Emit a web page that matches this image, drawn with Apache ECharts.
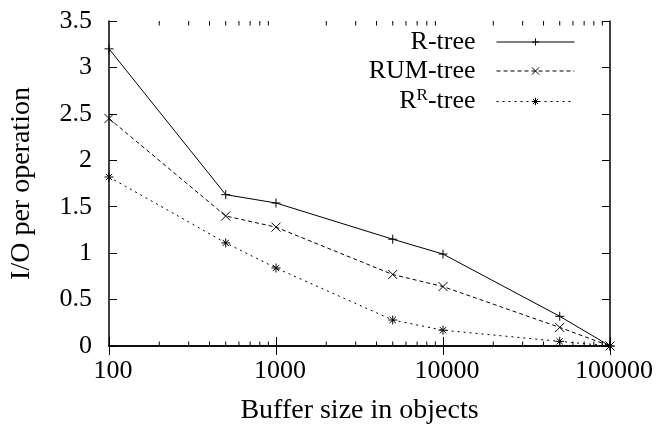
<!DOCTYPE html>
<html>
<head>
<meta charset="utf-8">
<script src="https://cdn.jsdelivr.net/npm/echarts@6/dist/echarts.min.js"></script>
<style>html,body{margin:0;padding:0;background:#fff}#c{width:656px;height:430px}</style>
</head>
<body>
<div id="c"></div>
<script>
const xValues = [100, 500, 1000, 5000, 10000, 50000, 100000];
const rTree = [3.2, 1.63, 1.54, 1.15, 0.99, 0.32, 0.0];
const rumTree = [2.45, 1.40, 1.28, 0.77, 0.64, 0.2, 0.0];
const rrTree = [1.82, 1.11, 0.84, 0.28, 0.17, 0.05, 0.0];
const xMinorTicks = [200, 300, 400, 500, 600, 700, 800, 900,
  2000, 3000, 4000, 5000, 6000, 7000, 8000, 9000,
  20000, 30000, 40000, 50000, 60000, 70000, 80000, 90000];
const seriesNames = ['R-tree', 'RUM-tree', 'RR-tree'];

const FONT = 'Liberation Serif';
const FS = 26;
const NFS = 28;

const plus = 'path://M5,0L5,10M0,5L10,5';
const cross = 'path://M0,0L10,10M0,10L10,0';
const star = 'path://M5,0L5,10M0,5L10,5M1.5,1.5L8.5,8.5M1.5,8.5L8.5,1.5';

function pairs(ys) { return xValues.map((x, i) => [x, ys[i]]); }

const chart = echarts.init(document.getElementById('c'), null, {renderer: 'canvas'});

const AXW = 1.5;

function xAxisDef(pos, showLabel, name) {
  return {
    type: 'log', logBase: 10, min: 100, max: 100000, position: pos,
    name: name || '', nameLocation: 'middle', nameGap: 51,
    nameTextStyle: {fontFamily: FONT, fontSize: NFS, color: '#000'},
    axisLine: {show: true, lineStyle: {color: '#000', width: AXW}},
    axisTick: {show: true, inside: true, length: 9, lineStyle: {color: '#000', width: 1}},
    axisLabel: {show: showLabel, fontFamily: FONT, fontSize: FS, color: '#000', margin: 12,
      padding: [0, 0, 0, 8], formatter: function (v) { return String(v); }},
    splitLine: {show: false}, minorTick: {show: false}
  };
}
function yAxisDef(pos, showLabel, name) {
  return {
    type: 'value', min: 0, max: 3.5, interval: 0.5, position: pos,
    name: name || '', nameLocation: 'middle', nameGap: 73,
    nameTextStyle: {fontFamily: FONT, fontSize: NFS, color: '#000'},
    axisLine: {show: true, lineStyle: {color: '#000', width: AXW}},
    axisTick: {show: true, inside: true, length: 8, lineStyle: {color: '#000', width: 1}},
    axisLabel: {show: showLabel, fontFamily: FONT, fontSize: FS, color: '#000', margin: 17},
    splitLine: {show: false}
  };
}

const legendRich = {
  t: {fontFamily: FONT, fontSize: FS, color: '#000', lineHeight: 28},
  s: {fontFamily: FONT, fontSize: 17, color: '#000', lineHeight: 28, padding: [0, 0, 12, 0]}
};
function legendDef(name, top) {
  return {
    data: [name], right: 81, top: top, orient: 'horizontal', align: 'right', padding: 0,
    itemWidth: 78, itemHeight: 9, selectedMode: false,
    formatter: function (n) {
      if (n === 'RR-tree') return '{t|R}{s|R}{t|-tree}';
      return '{t|' + n + '}';
    },
    lineStyle: {width: 1},
    itemStyle: {color: 'rgba(0,0,0,0)', borderColor: '#000', borderWidth: 1},
    textStyle: {fontFamily: FONT, fontSize: FS, color: '#000', padding: [0, 16, 0, 0], rich: legendRich}
  };
}

function lineSeries(name, data, symbol, type, size) {
  return {
    name: name, type: 'line', data: data, xAxisIndex: 0, yAxisIndex: 0,
    symbol: symbol, symbolSize: size, showSymbol: true,
    lineStyle: {color: '#000', width: 1, type: type},
    itemStyle: {color: 'rgba(0,0,0,0)', borderColor: '#000', borderWidth: 1},
    emphasis: {disabled: true}, animation: false, clip: false
  };
}

chart.setOption({
  animation: false,
  grid: {left: 108, right: 45, top: 21, bottom: 83, containLabel: false},
  xAxis: [
    xAxisDef('bottom', true, 'Buffer size in objects'),
    xAxisDef('top', false)
  ],
  yAxis: [
    yAxisDef('left', true, 'I/O per operation'),
    yAxisDef('right', false)
  ],
  legend: [
    legendDef(seriesNames[0], 29),
    legendDef(seriesNames[1], 58),
    legendDef(seriesNames[2], 87)
  ],
  series: [
    {
      type: 'custom', name: 'minorTicks', xAxisIndex: 0, yAxisIndex: 0, silent: true, clip: false,
      data: xMinorTicks.map(v => [v, 0]),
      renderItem: function (params, api) {
        const v = api.value(0);
        const pb = api.coord([v, 0]);
        const pt = api.coord([v, 3.5]);
        const st = {stroke: '#000', lineWidth: 1};
        return {type: 'group', children: [
          {type: 'line', shape: {x1: pb[0], y1: pb[1], x2: pb[0], y2: pb[1] - 4.5}, style: st},
          {type: 'line', shape: {x1: pt[0], y1: pt[1], x2: pt[0], y2: pt[1] + 4.5}, style: st}
        ]};
      }
    },
    lineSeries(seriesNames[0], pairs(rTree), plus, 'solid', 9),
    lineSeries(seriesNames[1], pairs(rumTree), cross, [4, 3], 9),
    lineSeries(seriesNames[2], pairs(rrTree), star, [2, 4], 9)
  ]
});
</script>
</body>
</html>
